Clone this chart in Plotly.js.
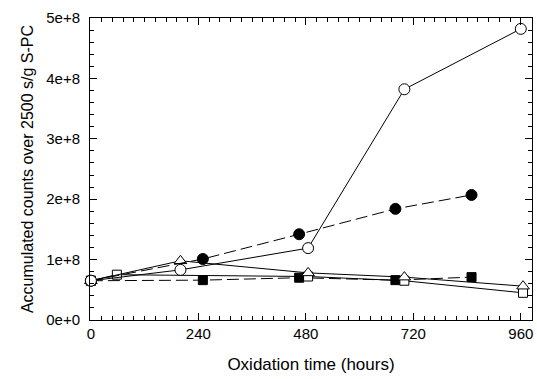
<!DOCTYPE html>
<html><head><meta charset="utf-8">
<script src="https://cdn.plot.ly/plotly-3.0.1.min.js"></script>
<style>html,body{margin:0;padding:0;background:#fff}#c{width:537px;height:379px}</style>
</head><body><div id="c"></div>
<script>
// Data
const openCircleX = [0, 200, 485, 700, 960];
const openCircleY = [6.5e7, 8.3e7, 1.19e8, 3.82e8, 4.82e8];
const filledCircleX = [0, 250, 465, 680, 850];
const filledCircleY = [6.5e7, 1.01e8, 1.42e8, 1.84e8, 2.07e8];
const filledSquareX = [0, 250, 465, 680, 850];
const filledSquareY = [6.5e7, 6.6e7, 7.0e7, 6.6e7, 7.1e7];
const triangleX = [0, 200, 485, 700, 965];
const triangleY = [6.5e7, 9.8e7, 7.8e7, 7.1e7, 5.6e7];
const openSquareX = [0, 58, 485, 700, 965];
const openSquareY = [6.5e7, 7.5e7, 7.2e7, 6.5e7, 4.5e7];
const xTicks = [0, 240, 480, 720, 960];
const yTicks = [0, 1e8, 2e8, 3e8, 4e8, 5e8];
const yTickText = ["0e+0", "1e+8", "2e+8", "3e+8", "4e+8", "5e+8"];

const blk = '#000';
const xRange = [-2, 985], yRange = [0, 5e8];
function tr(x, y, sym, dash, size) {
  const open = sym.indexOf('open') >= 0;
  return {
    x: x, y: y, type: 'scatter', mode: 'lines+markers', cliponaxis: false,
    line: {color: blk, width: 1, dash: dash},
    marker: {symbol: sym.replace('-open',''), size: size,
      color: open ? '#fff' : blk, line: {color: blk, width: 1}}
  };
}
const data = [
  tr(filledSquareX, filledSquareY, 'square', '12px,5px', 9),
  tr(openSquareX, openSquareY, 'square-open', 'solid', 9),
  tr(triangleX, triangleY, 'triangle-up-open', 'solid', 11),
  tr(filledCircleX, filledCircleY, 'circle', '12px,5px', 11),
  tr(openCircleX, openCircleY, 'circle-open', 'solid', 11),
  {x: [xRange[0]], y: [yRange[0]], xaxis: 'x2', yaxis: 'y2', type: 'scatter', mode: 'markers',
   marker: {opacity: 0}, hoverinfo: 'skip'}
];
const ff = 'Liberation Sans, Arial, sans-serif';
const tickFont = {family: ff, size: 15, color: blk};
const common = {
  ticks: 'inside', ticklen: 7, tickcolor: blk, tickwidth: 1,
  showline: true, linecolor: blk, linewidth: 1,
  showgrid: false, zeroline: false
};
const layout = {
  width: 537, height: 379,
  margin: {l: 90, r: 5, t: 18, b: 59},
  paper_bgcolor: '#fff', plot_bgcolor: '#fff',
  showlegend: false, font: tickFont,
  xaxis: Object.assign({}, common, {
    range: xRange, tickvals: xTicks, ticktext: xTicks.map(String), tickfont: tickFont,
    minor: {dtick: 24, tick0: 0, ticks: 'inside', ticklen: 4, tickcolor: blk, showgrid: false},
    title: {text: 'Oxidation time (hours)', font: {family: ff, size: 17, color: blk}, standoff: 17}
  }),
  yaxis: Object.assign({}, common, {
    range: yRange, tickvals: yTicks, ticktext: yTickText, tickfont: tickFont,
    ticklabelstandoff: 6,
    minor: {dtick: 2e7, tick0: 0, ticks: 'inside', ticklen: 4, tickcolor: blk, showgrid: false},
    title: {text: 'Accumulated counts over 2500 s/g S-PC', font: {family: ff, size: 16, color: blk}, standoff: 8}
  }),
  xaxis2: Object.assign({}, common, {
    overlaying: 'x', side: 'top', anchor: 'y2', range: xRange, tickvals: xTicks, showticklabels: false,
    minor: {dtick: 24, tick0: 0, ticks: 'inside', ticklen: 4, tickcolor: blk, showgrid: false}
  }),
  yaxis2: Object.assign({}, common, {
    overlaying: 'y', side: 'right', anchor: 'x2', range: yRange, tickvals: yTicks, showticklabels: false,
    minor: {dtick: 2e7, tick0: 0, ticks: 'inside', ticklen: 4, tickcolor: blk, showgrid: false}
  })
};
Plotly.newPlot('c', data, layout, {displayModeBar: false, staticPlot: true});
</script></body></html>
